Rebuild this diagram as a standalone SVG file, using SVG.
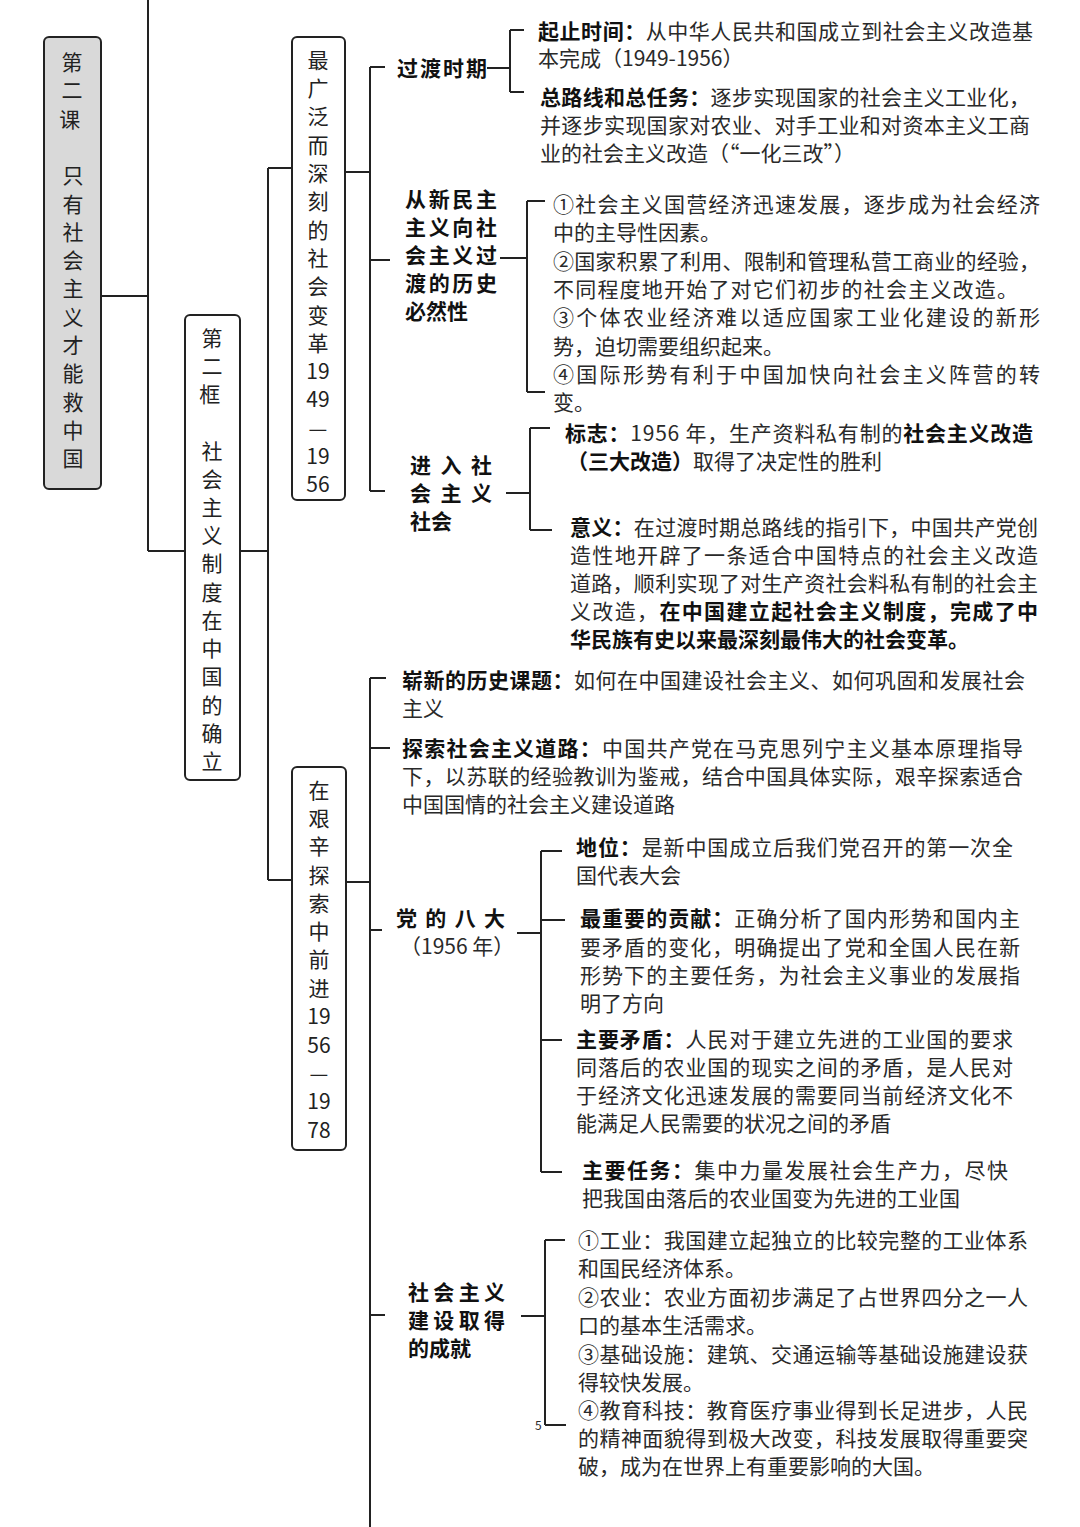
<svg xmlns="http://www.w3.org/2000/svg" width="1080" height="1527" viewBox="0 0 1080 1527">
<style>
.bg{fill:#ffffff}
.box{fill:#ffffff;stroke:#222;stroke-width:2}
.box.grey{fill:#d9d9d9}
.c{fill:none;stroke:#222;stroke-width:2}
text{font-family:"Noto Sans CJK SC","Liberation Sans",sans-serif;font-size:21px;fill:#2a2a2a}
.b{font-weight:bold;fill:#111}
.v{text-anchor:middle;fill:#222}
.s{font-size:12px}
</style>
<rect class="bg" x="0" y="0" width="1080" height="1527"/>
<g id="connectors">
<path class="c" d="M148 0V551M101 296H148M148 551H185"/>
<path class="c" d="M240 551H268M268 168V880M268 168H292M268 880H292"/>
<path class="c" d="M345 172H370M370 67V491M370 67H385M370 260H390M370 491H385"/>
<path class="c" d="M487 68H510M510 30V92M510 30H524M510 92H524"/>
<path class="c" d="M500 258H527M527 201V392M527 201H545M527 392H545"/>
<path class="c" d="M506 493H530M530 428V530M530 428H550M530 530H552"/>
<path class="c" d="M346 882H370M370 678V1527M370 678H386M370 748H390M370 930H382M370 1315H385"/>
<path class="c" d="M517 933H541M541 851V1172M541 851H562M541 920H565M541 1040H562M541 1172H562"/>
<path class="c" d="M521 1316H545M545 1240V1425M545 1240H565M545 1425H566"/>
</g>
<g id="lesson">
<rect class="box grey" x="44" y="37" width="57" height="452" rx="5"/>
<text class="v" x="72">
<tspan x="72" y="70">第</tspan><tspan x="72" y="98">二</tspan><tspan x="72" y="127">课</tspan>
<tspan x="73" y="183">只</tspan><tspan x="73" y="212">有</tspan><tspan x="73" y="240">社</tspan><tspan x="73" y="268">会</tspan><tspan x="73" y="296">主</tspan><tspan x="73" y="325">义</tspan><tspan x="73" y="353">才</tspan><tspan x="73" y="381">能</tspan><tspan x="73" y="410">救</tspan><tspan x="73" y="438">中</tspan><tspan x="73" y="466">国</tspan>
</text>
</g>
<g id="frame2">
<rect class="box" x="185" y="315" width="55" height="465" rx="5"/>
<text class="v">
<tspan x="212" y="346">第</tspan><tspan x="212" y="374">二</tspan><tspan x="212" y="402">框</tspan>
<tspan x="212" y="459">社</tspan><tspan x="212" y="487">会</tspan><tspan x="212" y="515">主</tspan><tspan x="212" y="543">义</tspan><tspan x="212" y="571">制</tspan><tspan x="212" y="600">度</tspan><tspan x="212" y="628">在</tspan><tspan x="212" y="656">中</tspan><tspan x="212" y="684">国</tspan><tspan x="212" y="713">的</tspan><tspan x="212" y="741">确</tspan><tspan x="212" y="769">立</tspan>
</text>
</g>
<g id="period1">
<rect class="box" x="292" y="37" width="53" height="463" rx="5"/>
<text class="v">
<tspan x="318" y="68">最</tspan><tspan x="318" y="96">广</tspan><tspan x="318" y="124">泛</tspan><tspan x="318" y="153">而</tspan><tspan x="318" y="181">深</tspan><tspan x="318" y="209">刻</tspan><tspan x="318" y="238">的</tspan><tspan x="318" y="266">社</tspan><tspan x="318" y="294">会</tspan><tspan x="318" y="323">变</tspan><tspan x="318" y="351">革</tspan><tspan x="318" y="379">19</tspan><tspan x="318" y="407">49</tspan><tspan x="318" y="436">—</tspan><tspan x="318" y="464">19</tspan><tspan x="318" y="492">56</tspan>
</text>
</g>
<g id="transition">
<text class="b" x="397" y="76" textLength="90">过渡时期</text>
<text x="538" y="39" textLength="495"><tspan class="b">起止时间：</tspan>从中华人民共和国成立到社会主义改造基</text>
<text x="538" y="66">本完成（1949-1956）</text>
<text x="540" y="105" textLength="490"><tspan class="b">总路线和总任务：</tspan>逐步实现国家的社会主义工业化，</text>
<text x="540" y="133" textLength="490">并逐步实现国家对农业、对手工业和对资本主义工商</text>
<text x="540" y="161">业的社会主义改造（“一化三改”）</text>
</g>
<g id="necessity">
<text class="b" x="405" y="207" textLength="92">从新民主</text>
<text class="b" x="405" y="235" textLength="92">主义向社</text>
<text class="b" x="405" y="263" textLength="92">会主义过</text>
<text class="b" x="405" y="291" textLength="92">渡的历史</text>
<text class="b" x="405" y="319">必然性</text>
<text x="553" y="212" textLength="487">①社会主义国营经济迅速发展，逐步成为社会经济</text>
<text x="553" y="240">中的主导性因素。</text>
<text x="553" y="269" textLength="487">②国家积累了利用、限制和管理私营工商业的经验，</text>
<text x="553" y="297" textLength="465">不同程度地开始了对它们初步的社会主义改造。</text>
<text x="553" y="325" textLength="487">③个体农业经济难以适应国家工业化建设的新形</text>
<text x="553" y="354">势，迫切需要组织起来。</text>
<text x="553" y="382" textLength="487">④国际形势有利于中国加快向社会主义阵营的转</text>
<text x="553" y="410">变。</text>
</g>
<g id="enter-socialism">
<text class="b" x="410" y="473" textLength="82">进 入 社</text>
<text class="b" x="410" y="501" textLength="82">会 主 义</text>
<text class="b" x="410" y="529">社会</text>
<text x="565" y="441" textLength="468"><tspan class="b">标志：</tspan>1956 年，生产资料私有制的<tspan class="b">社会主义改造</tspan></text>
<text x="567" y="469"><tspan class="b">（三大改造）</tspan>取得了决定性的胜利</text>
<text x="570" y="535" textLength="468"><tspan class="b">意义：</tspan>在过渡时期总路线的指引下，中国共产党创</text>
<text x="570" y="563" textLength="468">造性地开辟了一条适合中国特点的社会主义改造</text>
<text x="570" y="591" textLength="468">道路，顺利实现了对生产资社会料私有制的社会主</text>
<text x="570" y="619" textLength="468">义改造，<tspan class="b">在中国建立起社会主义制度，完成了中</tspan></text>
<text class="b" x="570" y="647">华民族有史以来最深刻最伟大的社会变革。</text>
</g>
<g id="period2">
<rect class="box" x="292" y="767" width="54" height="383" rx="5"/>
<text class="v">
<tspan x="319" y="798">在</tspan><tspan x="319" y="826">艰</tspan><tspan x="319" y="854">辛</tspan><tspan x="319" y="883">探</tspan><tspan x="319" y="911">索</tspan><tspan x="319" y="939">中</tspan><tspan x="319" y="967">前</tspan><tspan x="319" y="996">进</tspan><tspan x="319" y="1024">19</tspan><tspan x="319" y="1053">56</tspan><tspan x="319" y="1081">—</tspan><tspan x="319" y="1109">19</tspan><tspan x="319" y="1138">78</tspan>
</text>
</g>
<g id="new-topic">
<text x="402" y="688" textLength="623"><tspan class="b">崭新的历史课题：</tspan>如何在中国建设社会主义、如何巩固和发展社会</text>
<text x="402" y="716">主义</text>
</g>
<g id="explore-road">
<text x="402" y="756" textLength="621"><tspan class="b">探索社会主义道路：</tspan>中国共产党在马克思列宁主义基本原理指导</text>
<text x="402" y="784" textLength="621">下，以苏联的经验教训为鉴戒，结合中国具体实际，艰辛探索适合</text>
<text x="402" y="812">中国国情的社会主义建设道路</text>
</g>
<g id="eighth-congress">
<text class="b" x="396" y="926" textLength="109">党 的 八 大</text>
<text x="400" y="954">（1956 年）</text>
<text x="576" y="855" textLength="437"><tspan class="b">地位：</tspan>是新中国成立后我们党召开的第一次全</text>
<text x="576" y="883">国代表大会</text>
<text x="580" y="926" textLength="440"><tspan class="b">最重要的贡献：</tspan>正确分析了国内形势和国内主</text>
<text x="580" y="955" textLength="440">要矛盾的变化，明确提出了党和全国人民在新</text>
<text x="580" y="983" textLength="440">形势下的主要任务，为社会主义事业的发展指</text>
<text x="580" y="1011">明了方向</text>
<text x="576" y="1047" textLength="437"><tspan class="b">主要矛盾：</tspan>人民对于建立先进的工业国的要求</text>
<text x="576" y="1075" textLength="437">同落后的农业国的现实之间的矛盾，是人民对</text>
<text x="576" y="1103" textLength="437">于经济文化迅速发展的需要同当前经济文化不</text>
<text x="576" y="1131">能满足人民需要的状况之间的矛盾</text>
<text x="582" y="1178" textLength="426"><tspan class="b">主要任务：</tspan>集中力量发展社会生产力，尽快</text>
<text x="582" y="1206">把我国由落后的农业国变为先进的工业国</text>
</g>
<g id="achievements">
<text class="b" x="408" y="1300" textLength="97">社会主义</text>
<text class="b" x="408" y="1328" textLength="97">建设取得</text>
<text class="b" x="408" y="1356">的成就</text>
<text x="578" y="1248" textLength="450">①工业：我国建立起独立的比较完整的工业体系</text>
<text x="578" y="1276">和国民经济体系。</text>
<text x="578" y="1305" textLength="450">②农业：农业方面初步满足了占世界四分之一人</text>
<text x="578" y="1333">口的基本生活需求。</text>
<text x="578" y="1362" textLength="450">③基础设施：建筑、交通运输等基础设施建设获</text>
<text x="578" y="1390">得较快发展。</text>
<text x="578" y="1418" textLength="450">④教育科技：教育医疗事业得到长足进步，人民</text>
<text x="578" y="1446" textLength="450">的精神面貌得到极大改变，科技发展取得重要突</text>
<text x="578" y="1474">破，成为在世界上有重要影响的大国。</text>
<text class="s" x="535" y="1430">5</text>
</g>
</svg>
